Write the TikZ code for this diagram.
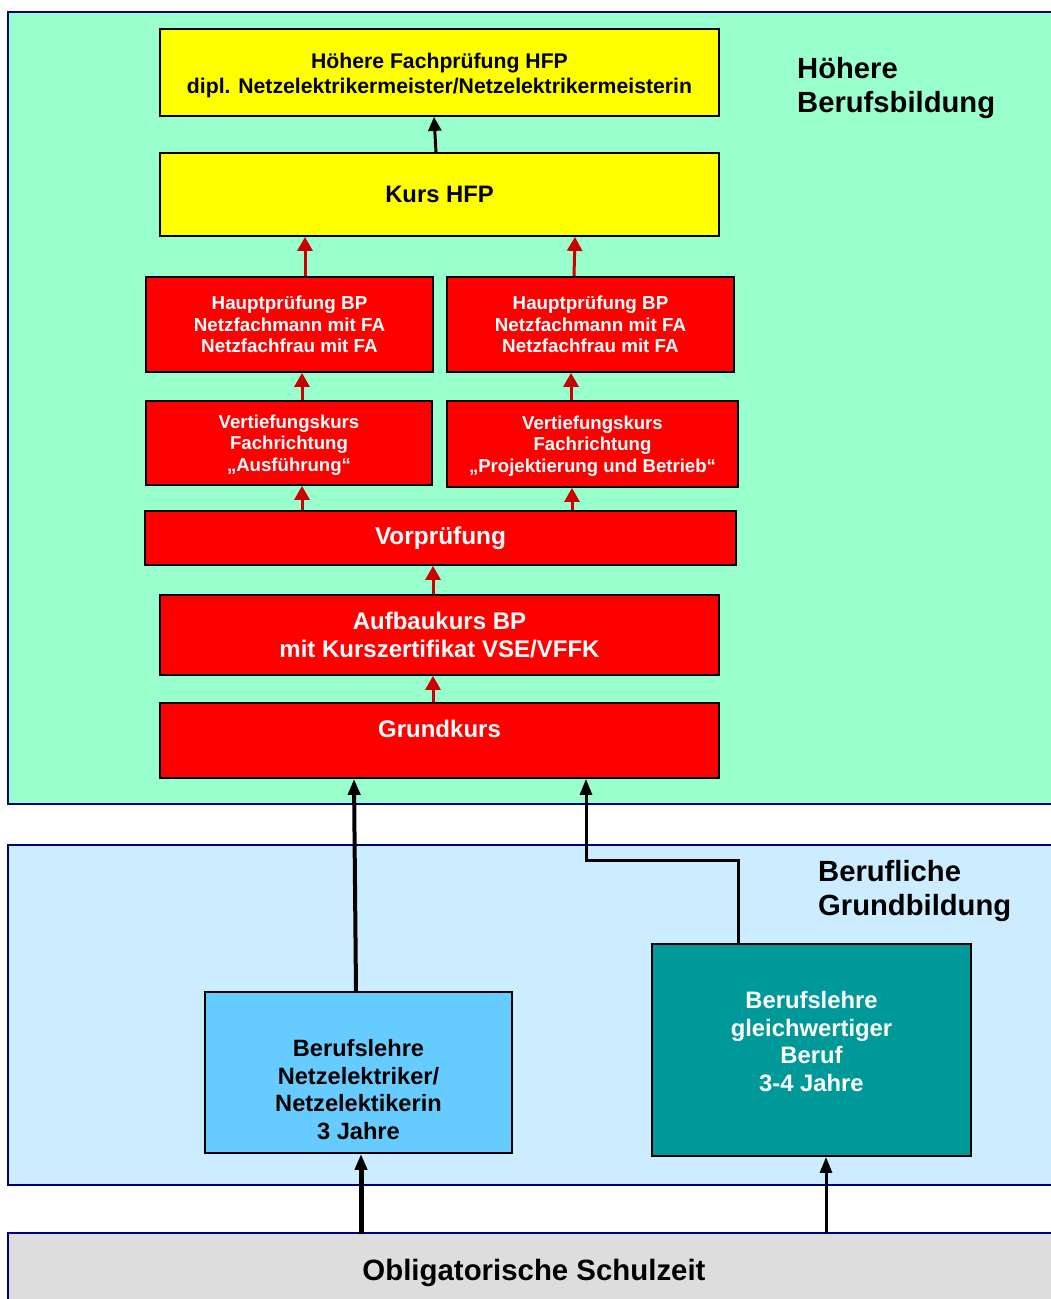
\documentclass[tikz,border=0pt]{standalone}
\usepackage{fontspec}
\setmainfont{Liberation Sans}
\usetikzlibrary{arrows.meta}
\definecolor{pgreen}{HTML}{99FFCC}
\definecolor{pblue}{HTML}{CCECFF}
\definecolor{pgrey}{HTML}{DDDDDD}
\definecolor{pnavy}{HTML}{000080}
\definecolor{bred}{HTML}{FF0000}
\definecolor{ared}{HTML}{CC0000}
\definecolor{byellow}{HTML}{FFFF00}
\definecolor{blight}{HTML}{66CCFF}
\definecolor{bteal}{HTML}{009999}
\tikzset{
  panel/.style={draw=pnavy, line width=1.3pt},
  box/.style={draw=black, line width=1.8pt, inner sep=0pt, align=center, font=\bfseries},
  yellowbox/.style={box, fill=byellow, text=black},
  redbox/.style={box, fill=bred, text=white},
  boxtext/.style={inner sep=0pt, align=center},
  redarrow/.style={draw=ared, line width=3pt, -{Triangle[length=14pt,width=15pt]}},
  blackarrow/.style={draw=black, line width=#1, -{Triangle[length=16pt,width=12pt]}},
  paneltitle/.style={anchor=west, align=left, font=\bfseries\fontsize{29.2}{34}\selectfont, inner sep=0pt}
}
\begin{document}
\begin{tikzpicture}[x=1pt,y=-1pt]
\useasboundingbox (0,0) rectangle (1050,1299);
% panels
\path[panel, fill=pgreen] (8,12) rectangle (1060,804);
\path[panel, fill=pblue] (8,845) rectangle (1060,1185);
\path[panel, fill=pgrey] (8,1233) rectangle (1060,1310);
\node[paneltitle] (t1) at (797,88) {Höhere\\Berufsbildung};
\node[paneltitle] (t2) at (818,891) {Berufliche\\Grundbildung};
\node[font=\bfseries\fontsize{29.4}{34}\selectfont, inner sep=0pt, anchor=base] (schule) at (534,1280) {Obligatorische Schulzeit};
\coordinate (sA) at (361,1234);
\coordinate (sB) at (826,1233);
% boxes
\node[yellowbox, minimum width=559, minimum height=87] (hfp) at (439.5,72.5) {};
\node[boxtext, font=\bfseries\fontsize{21.2}{25}\selectfont] (hfpt) at (439.5,75.5) {Höhere Fachprüfung HFP\\dipl. Netzelektrikermeister/Netzelektrikermeisterin};
\node[yellowbox, minimum width=559, minimum height=83, font=\bfseries\fontsize{23.8}{26}\selectfont] (kurs) at (439.5,194.5) {Kurs HFP};
\node[redbox, minimum width=287, minimum height=95, font=\bfseries\fontsize{18.8}{21.5}\selectfont] (hl) at (289.5,324.5) {Hauptprüfung BP\\Netzfachmann mit FA\\Netzfachfrau mit FA};
\node[redbox, minimum width=287, minimum height=95, font=\bfseries\fontsize{18.8}{21.5}\selectfont] (hr) at (590.5,324.5) {Hauptprüfung BP\\Netzfachmann mit FA\\Netzfachfrau mit FA};
\node[redbox, minimum width=286, minimum height=84] (vl) at (289,443) {};
\node[boxtext, text=white, font=\bfseries\fontsize{18.6}{21.5}\selectfont] (vlt) at (289,445) {Vertiefungskurs\\Fachrichtung\\„Ausführung“};
\node[redbox, minimum width=291, minimum height=86] (vr) at (592.5,444) {};
\node[boxtext, text=white, font=\bfseries\fontsize{18.6}{21.5}\selectfont] (vrt) at (592.5,446) {Vertiefungskurs\\Fachrichtung\\„Projektierung und Betrieb“};
\node[redbox, minimum width=591, minimum height=54, font=\bfseries\fontsize{24.4}{26}\selectfont] (vp) at (440.5,538) {Vorprüfung};
\node[redbox, minimum width=559, minimum height=80, font=\bfseries\fontsize{24}{28}\selectfont] (auf) at (439.5,635) {Aufbaukurs BP\\mit Kurszertifikat VSE/VFFK};
\node[redbox, minimum width=559, minimum height=75] (gk) at (439.5,740.5) {};
\node[boxtext, font=\bfseries\fontsize{24}{26}\selectfont, text=white] (gkt) at (439.5,729) {Grundkurs};
\node[box, fill=blight, minimum width=307, minimum height=161] (bl) at (358.5,1072.5) {};
\node[boxtext, font=\bfseries\fontsize{23.6}{27.7}\selectfont, text=black] (blt) at (358.5,1089.5) {Berufslehre\\Netzelektriker/\\Netzelektikerin\\3 Jahre};
\node[box, fill=bteal, minimum width=319, minimum height=212] (br) at (811.5,1050) {};
\node[boxtext, font=\bfseries\fontsize{23.8}{27.7}\selectfont, text=white] (brt) at (811.5,1041.5) {Berufslehre\\gleichwertiger\\Beruf\\3-4 Jahre};
% arrows
\draw[black, line width=3pt, -{Triangle[length=14pt,width=13pt]}] ([xshift=-3.5pt]kurs.north) -- ([xshift=-5.5pt]hfp.south);
\draw[redarrow] (hl.north -| 305,0) -- (kurs.south -| 305,0);
\draw[redarrow] ([xshift=-16.5pt]hr.north) -- ([xshift=-15.5pt]kurs.south -| hr.north);
\draw[redarrow] (vl.north -| 302,0) -- (hl.south -| 302,0);
\draw[redarrow] (vr.north -| 571,0) -- (hr.south -| 571,0);
\draw[redarrow] (vp.north -| 302,0) -- (vl.south -| 302,0);
\draw[redarrow] (vp.north -| 572,0) -- (vr.south -| 572,0);
\draw[redarrow] (auf.north -| 433,0) -- (vp.south -| 433,0);
\draw[redarrow] (gk.north -| 433,0) -- (auf.south -| 433,0);
\draw[blackarrow=4pt] ([xshift=-2.5pt]bl.north) -- ([xshift=-85.5pt]gk.south);
\draw[blackarrow=3pt] (br.north -| 738,0) -- (738,860) -- (586,860) -- (gk.south -| 586,0);
\draw[blackarrow=5pt] (sA) -- (bl.south -| sA);
\draw[blackarrow=3pt] (sB) -- (br.south -| sB);
\end{tikzpicture}
\end{document}
